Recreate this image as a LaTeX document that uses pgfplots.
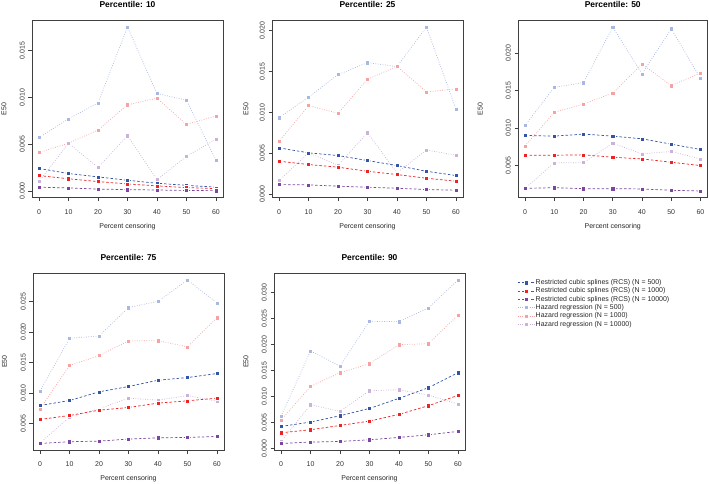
\documentclass[border=0pt]{standalone}
\usepackage{fontspec}
\setmainfont{Liberation Sans}
\usepackage{pgfplots}
\usepackage{pgfplotstable}
\pgfplotsset{compat=1.18}

\definecolor{rcsblue}{HTML}{3355A8}
\definecolor{rcsred}{HTML}{EE2424}
\definecolor{rcspurple}{HTML}{7A46A0}
\definecolor{hrblue}{HTML}{A9B8E0}
\definecolor{hrred}{HTML}{F6A2A2}
\definecolor{hrpurple}{HTML}{CBB2DA}

% columns: censoring, RCS N=500/1000/10000, hazard regression N=500/1000/10000
\pgfplotstableread{
x  r500    r1000   r10000  h500    h1000   h10000
0  0.0024  0.00164 0.0004  0.0057  0.0041  0.0010
10 0.00186 0.0013  0.00032 0.0077  0.0051  0.0051
20 0.0015  0.0010  0.0002  0.0094  0.0065  0.0025
30 0.00114 0.00075 0.00014 0.0175  0.0092  0.0059
40 0.00082 0.00054 0.0001  0.0104  0.0099  0.0012
50 0.0006  0.00036 0.00005 0.0097  0.0071  0.0037
60 0.0004  0.00025 0.00003 0.0033  0.0080  0.0055
}\pten

\pgfplotstableread{
x  r500    r1000   r10000  h500    h1000   h10000
0  0.00566 0.00403 0.00118 0.00935 0.00646 0.00167
10 0.00505 0.00362 0.00114 0.01183 0.01082 0.00505
20 0.00472 0.0033  0.00098 0.0146  0.00988 0.00354
30 0.00411 0.0028  0.00085 0.01606 0.01402 0.0075
40 0.0035  0.0024  0.00073 0.01557 0.01561 0.0026
50 0.0028  0.00195 0.00057 0.0204  0.01249 0.0054
60 0.00228 0.00159 0.00049 0.0104  0.01285 0.00476
}\ptwentyfive

\pgfplotstableread{
x  r500    r1000   r10000  h500    h1000   h10000
0  0.00902 0.00638 0.00196 0.01036 0.00763 0.00196
10 0.00893 0.00638 0.00205 0.01545 0.0121  0.00536
20 0.0092  0.00643 0.00192 0.01607 0.01321 0.0054
30 0.00893 0.00612 0.00192 0.02348 0.01469 0.00799
40 0.00857 0.00589 0.00188 0.01723 0.01853 0.00656
50 0.00786 0.00545 0.0017  0.02326 0.01567 0.00688
60 0.00714 0.005   0.00161 0.01661 0.01737 0.00589
}\pfifty

\pgfplotstableread{
x  r500    r1000   r10000  h500    h1000   h10000
0  0.00796 0.00567 0.00174 0.01035 0.00741 0.00185
10 0.00877 0.00632 0.00202 0.01896 0.0145  0.00605
20 0.01019 0.00719 0.00213 0.01935 0.01613 0.00741
30 0.01106 0.00763 0.00245 0.02398 0.01853 0.00916
40 0.0121  0.00834 0.00267 0.02501 0.01858 0.00883
50 0.01253 0.00872 0.00272 0.0285  0.01755 0.00959
60 0.01319 0.00916 0.00289 0.02474 0.02234 0.00866
}\pseventyfive

\pgfplotstableread{
x  r500    r1000   r10000  h500    h1000   h10000
0  0.00424 0.00302 0.00096 0.00623 0.00546 0.00135
10 0.00508 0.0036  0.00122 0.01877 0.01195 0.00842
20 0.0063  0.00443 0.00135 0.01587 0.01459 0.00713
30 0.00771 0.00527 0.00167 0.02449 0.01632 0.01112
40 0.00964 0.00656 0.00212 0.02442 0.01999 0.01131
50 0.0117  0.00823 0.00263 0.02706 0.02018 0.01028
60 0.01459 0.01022 0.00328 0.03245 0.0257  0.00855
}\pninety

\pgfplotsset{
  rcs/.style={color=#1, line width=0.7bp, dash pattern=on 2.5bp off 2bp,
    mark=square*, mark size=2.1bp,
    mark options={solid, fill=#1, draw=white, line width=0.4bp}},
  hr/.style={color=#1, line width=0.7bp, dash pattern=on 0.8bp off 1.6bp,
    mark=square*, mark size=2.1bp,
    mark options={solid, fill=#1, draw=white, line width=0.4bp}},
  rpanel/.style={
    scale only axis, width=191bp, height=177bp,
    xmin=-2.4, xmax=62.4, xtick={0,10,...,60},
    axis line style={black!75, line width=0.8bp},
    tick style={black!75, line width=0.6bp},
    tick align=outside, major tick length=3.5bp,
    xtick pos=bottom, ytick pos=left,
    scaled y ticks=false,
    /pgf/number format/assume math mode=true,
    ticklabel style={font=\fontsize{7}{8}\selectfont, text=black!80},
    xticklabel style={yshift=-5bp},
    yticklabel style={rotate=90, anchor=south, inner sep=3.5bp,
      /pgf/number format/fixed, /pgf/number format/fixed zerofill,
      /pgf/number format/precision=3},
    xlabel={Percent censoring}, ylabel={E50},
    label style={font=\fontsize{7}{8}\selectfont, text=black!85},
    xlabel style={at={(axis description cs:0.5,0)}, anchor=center, yshift=-29bp},
    title style={at={(axis description cs:0.5,1)}, anchor=center, yshift=10bp,
      font=\bfseries\fontsize{8.5}{10}\selectfont},
  },
}

\newcommand{\sixplots}[1]{%
  \addplot[hr=hrblue] table[x=x, y=h500] {#1};
  \addplot[hr=hrred] table[x=x, y=h1000] {#1};
  \addplot[hr=hrpurple] table[x=x, y=h10000] {#1};
  \addplot[rcs=rcsblue] table[x=x, y=r500] {#1};
  \addplot[rcs=rcsred] table[x=x, y=r1000] {#1};
  \addplot[rcs=rcspurple] table[x=x, y=r10000] {#1};
}

\begin{document}
\begin{tikzpicture}
\path[use as bounding box] (0,0) rectangle (709bp,484bp);

\begin{axis}[rpanel, at={(32bp,286.5bp)}, anchor=south west,
    title={Percentile: 10}, ymin=-0.0007, ymax=0.0182,
    ytick={0,0.005,0.010,0.015},
    ylabel style={at={(axis description cs:-0.147,0.5)}, anchor=center}]
  \sixplots{\pten}
\end{axis}

\begin{axis}[rpanel, at={(272bp,286.5bp)}, anchor=south west,
    title={Percentile: 25}, ymin=-0.0004, ymax=0.0212,
    ytick={0,0.005,0.010,0.015,0.020},
    ylabel style={at={(axis description cs:-0.136,0.5)}, anchor=center}]
  \sixplots{\ptwentyfive}
\end{axis}

\begin{axis}[rpanel, at={(518bp,286.5bp)}, anchor=south west, width=189.5bp,
    title={Percentile: 50}, ymin=0.00074, ymax=0.02436,
    ytick={0.005,0.010,0.015,0.020},
    ylabel style={at={(axis description cs:-0.2,0.5)}, anchor=center}]
  \sixplots{\pfifty}
\end{axis}

\begin{axis}[rpanel, at={(33bp,34bp)}, anchor=south west, height=176.5bp,
    title={Percentile: 75}, ymin=0.00067, ymax=0.02957,
    ytick={0.005,0.010,0.015,0.020,0.025},
    ylabel style={at={(axis description cs:-0.15,0.5)}, anchor=center}]
  \sixplots{\pseventyfive}
\end{axis}

\begin{axis}[rpanel, at={(274bp,34bp)}, anchor=south west, height=176.5bp,
    title={Percentile: 90}, ymin=-0.0003, ymax=0.0337,
    ytick={0,0.005,0.010,0.015,0.020,0.025,0.030},
    ylabel style={at={(axis description cs:-0.147,0.5)}, anchor=center}]
  \sixplots{\pninety}
\end{axis}

% legend panel
\begin{axis}[at={(0bp,0bp)}, anchor=south west, scale only axis,
    width=709bp, height=484bp, hide axis,
    xmin=0, xmax=1, ymin=0, ymax=1,
    legend cell align=left,
    legend style={at={(0.7292,0.3731)}, anchor=west, draw=none, fill=none,
      font=\fontsize{7}{8}\selectfont, text=black!85, row sep=0pt,
      inner sep=0pt,
      nodes={inner sep=0.8bp, text height=5.2bp, text depth=1.5bp}}]
  \addlegendimage{rcs=rcsblue}
  \addlegendentry{Restricted cubic splines (RCS) (N = 500)}
  \addlegendimage{rcs=rcsred}
  \addlegendentry{Restricted cubic splines (RCS) (N = 1000)}
  \addlegendimage{rcs=rcspurple}
  \addlegendentry{Restricted cubic splines (RCS) (N = 10000)}
  \addlegendimage{hr=hrblue}
  \addlegendentry{Hazard regression (N = 500)}
  \addlegendimage{hr=hrred}
  \addlegendentry{Hazard regression (N = 1000)}
  \addlegendimage{hr=hrpurple}
  \addlegendentry{Hazard regression (N = 10000)}
\end{axis}
\end{tikzpicture}
\end{document}
